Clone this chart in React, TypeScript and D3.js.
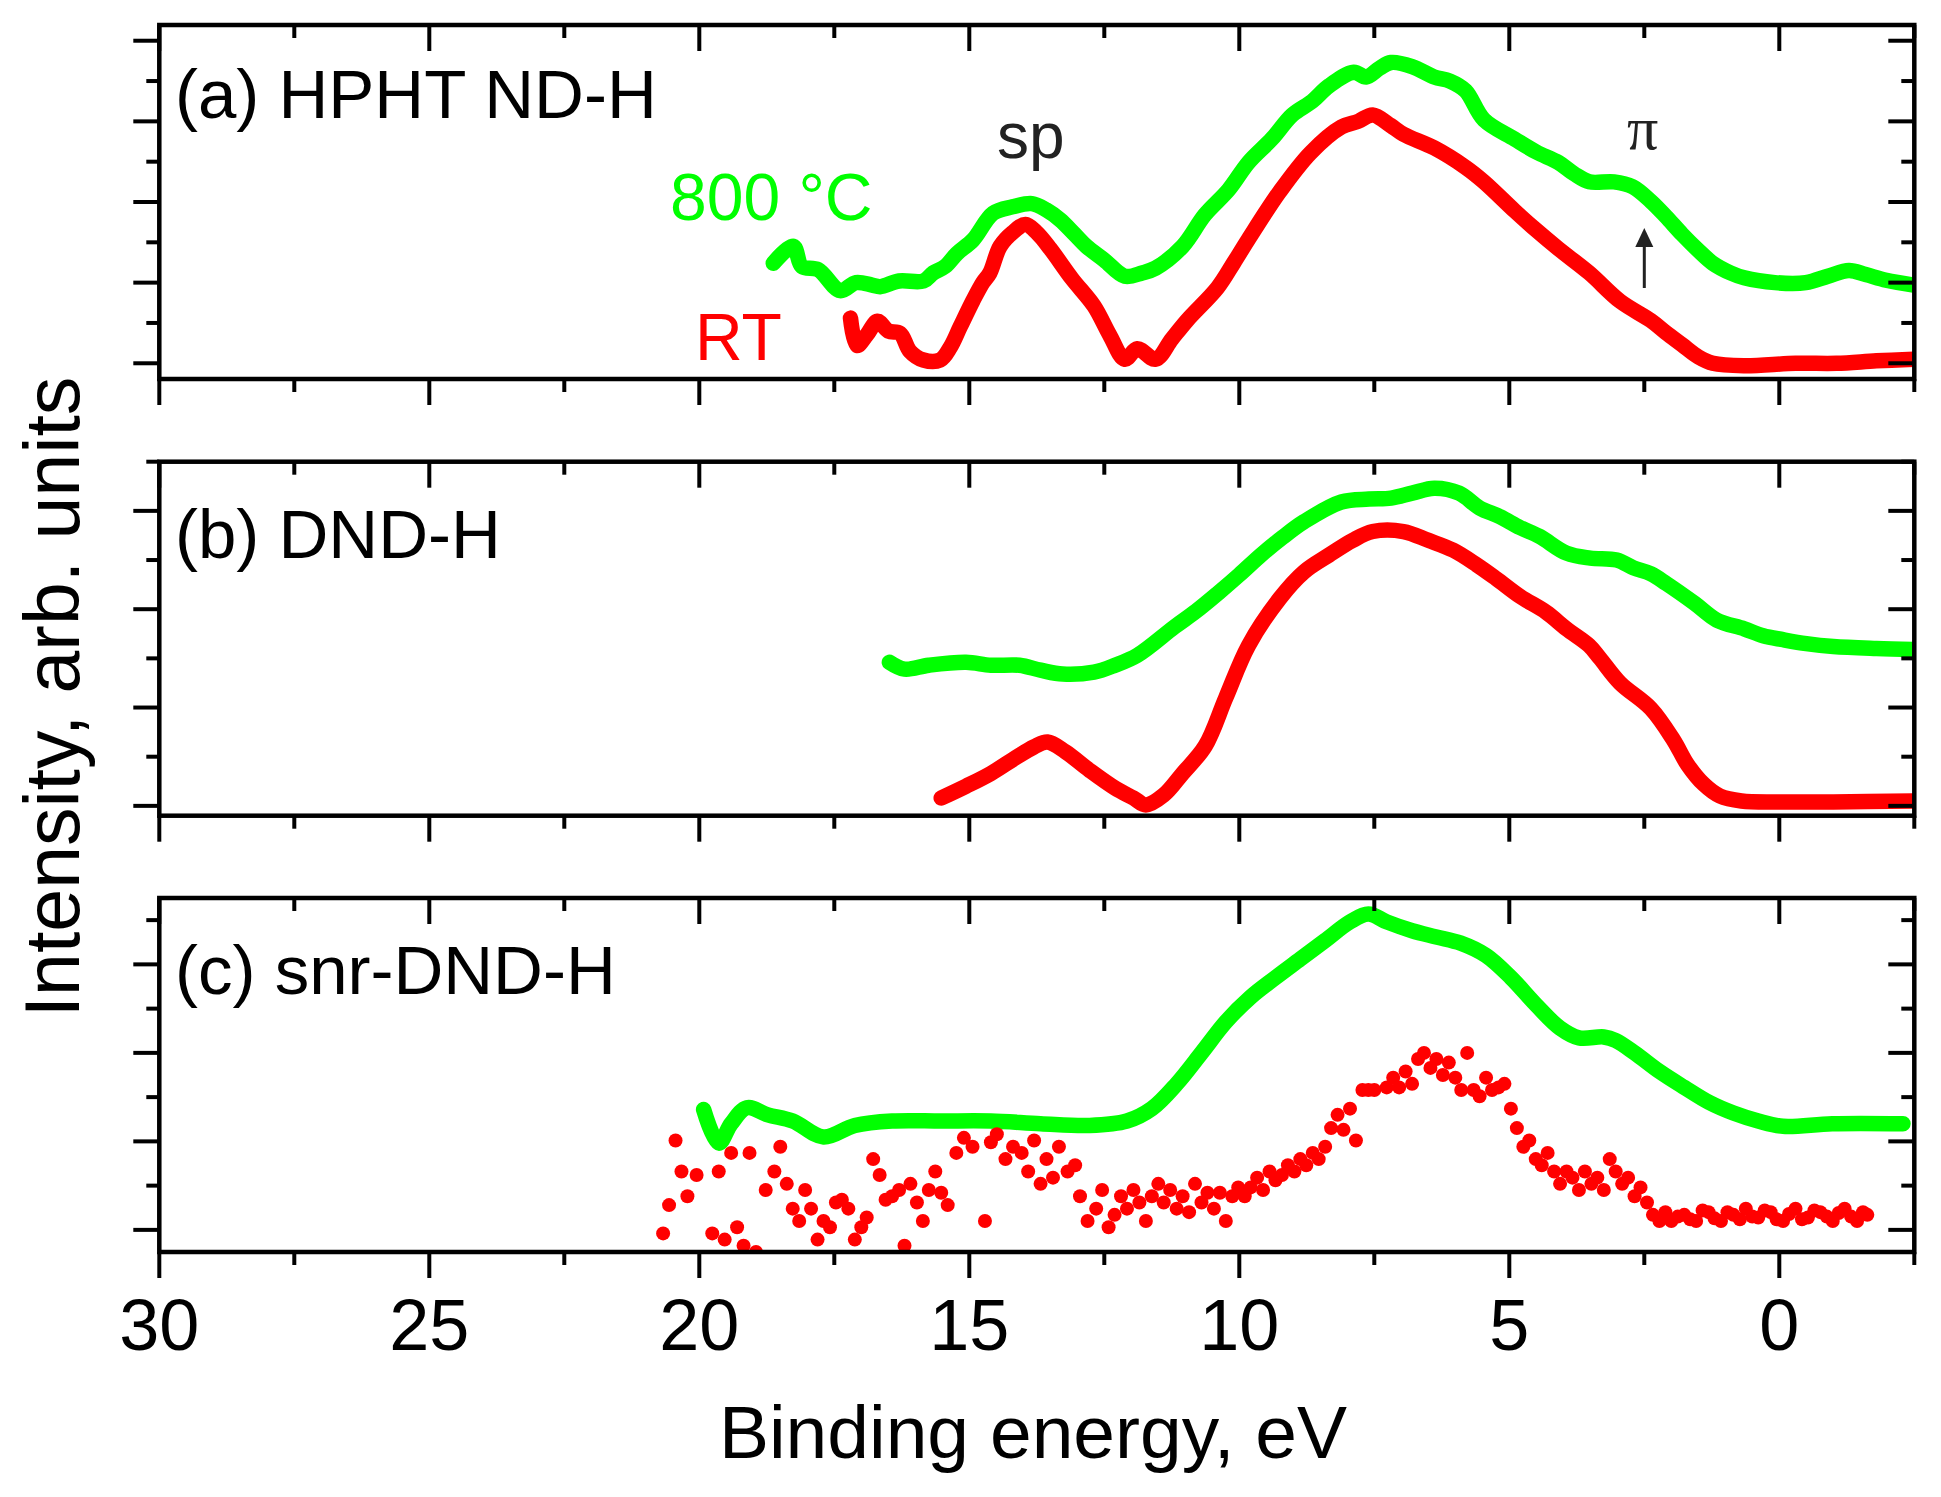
import React from 'react';
import * as d3 from 'd3';

type Pt = [number, number];

// binding energy ticks
const xMajor = [30, 25, 20, 15, 10, 5, 0];
const xMinor = [27.5, 22.5, 17.5, 12.5, 7.5, 2.5, -2.5];

// (a) HPHT ND-H
const aGreen: Pt[] = [
	[18.63, 1.24], [18.26, 1.45], [18.1, 1.2], [17.8, 1.16], [17.39, 0.9], [17.1, 1.0], [16.8, 0.97],
	[16.65, 0.95], [16.3, 1.02], [15.85, 1.02], [15.67, 1.12], [15.45, 1.2], [15.23, 1.36], [14.93, 1.53],
	[14.56, 1.86], [14.2, 1.94], [13.84, 1.98], [13.57, 1.9], [13.32, 1.78], [13.05, 1.6], [12.83, 1.45],
	[12.5, 1.28], [12.12, 1.08], [11.8, 1.12], [11.55, 1.18], [11.05, 1.45], [10.64, 1.84], [10.2, 2.15],
	[9.83, 2.49], [9.4, 2.78], [9.02, 3.08], [8.65, 3.25], [8.34, 3.44], [7.88, 3.61], [7.65, 3.55],
	[7.4, 3.66], [7.19, 3.73], [6.8, 3.68], [6.39, 3.55], [6.1, 3.5], [5.81, 3.38], [5.47, 3.02],
	[4.9, 2.78], [4.5, 2.62], [4.09, 2.49], [3.8, 2.35], [3.52, 2.25], [3.06, 2.25], [2.72, 2.19],
	[2.38, 2.01], [2.1, 1.82], [1.8, 1.6], [1.5, 1.4], [1.23, 1.24], [0.9, 1.12], [0.65, 1.06],
	[0.08, 1.0], [-0.49, 1.0], [-0.9, 1.08], [-1.29, 1.15], [-1.6, 1.1], [-1.98, 1.03], [-2.49, 0.97],
];
const aRed: Pt[] = [
	[17.2, 0.56], [17.08, 0.22], [16.9, 0.35], [16.7, 0.52], [16.5, 0.4], [16.28, 0.37], [16.1, 0.15],
	[15.85, 0.04], [15.54, 0.04], [15.35, 0.2], [15.17, 0.45], [14.93, 0.78], [14.75, 1.0], [14.62, 1.12],
	[14.43, 1.45], [14.2, 1.62], [13.96, 1.72], [13.75, 1.62], [13.5, 1.42], [13.1, 1.05], [12.69, 0.71],
	[12.4, 0.35], [12.12, 0.05], [11.89, 0.18], [11.55, 0.05], [11.25, 0.3], [10.97, 0.53], [10.4, 0.94],
	[10.1, 1.25], [9.83, 1.54], [9.25, 2.13], [8.68, 2.61], [8.11, 2.93], [7.8, 3.0], [7.53, 3.08],
	[7.2, 2.95], [6.96, 2.84], [6.39, 2.67], [5.81, 2.43], [5.47, 2.25], [4.9, 1.89], [4.5, 1.65],
	[4.09, 1.42], [3.52, 1.12], [2.95, 0.77], [2.38, 0.53], [2.1, 0.38], [1.8, 0.23], [1.5, 0.08],
	[1.23, 0.0], [0.65, -0.03], [-0.3, 0.0], [-1.06, 0.0], [-1.8, 0.03], [-2.49, 0.05],
];

// (b) DND-H
const bGreen: Pt[] = [
	[16.48, 1.46], [16.2, 1.39], [15.75, 1.43], [15.06, 1.46], [14.6, 1.43], [14.07, 1.43], [13.68, 1.38],
	[13.27, 1.34], [12.69, 1.36], [12.3, 1.43], [11.89, 1.53], [11.2, 1.82], [10.8, 1.98], [10.4, 2.16],
	[10.0, 2.35], [9.6, 2.55], [9.2, 2.73], [8.8, 2.89], [8.11, 3.09], [7.6, 3.12], [7.19, 3.13],
	[6.8, 3.18], [6.39, 3.23], [5.93, 3.18], [5.55, 3.03], [5.17, 2.94], [4.8, 2.83], [4.44, 2.74],
	[3.94, 2.57], [3.5, 2.52], [3.01, 2.5], [2.7, 2.42], [2.38, 2.36], [2.09, 2.26], [1.57, 2.06],
	[1.16, 1.89], [0.65, 1.8], [0.3, 1.73], [-0.07, 1.69], [-0.5, 1.65], [-1.0, 1.62], [-1.8, 1.6],
	[-2.48, 1.59],
];
const bRed: Pt[] = [
	[15.52, 0.08], [15.06, 0.2], [14.6, 0.33], [14.14, 0.49], [13.8, 0.6], [13.55, 0.65], [13.22, 0.55],
	[12.77, 0.36], [12.3, 0.18], [11.96, 0.08], [11.73, 0.01], [11.4, 0.11], [11.05, 0.33], [10.63, 0.61],
	[10.25, 1.1], [9.83, 1.63], [9.25, 2.11], [8.8, 2.38], [8.34, 2.55], [7.9, 2.7], [7.53, 2.79],
	[6.96, 2.79], [6.5, 2.7], [6.04, 2.6], [5.6, 2.45], [5.24, 2.31], [4.8, 2.13], [4.32, 1.97],
	[3.94, 1.8], [3.52, 1.63], [3.32, 1.5], [2.95, 1.25], [2.38, 0.99], [1.96, 0.67], [1.7, 0.42],
	[1.4, 0.22], [1.1, 0.1], [0.7, 0.05], [0.0, 0.04], [-1.0, 0.04], [-2.47, 0.05],
];

// (c) snr-DND-H
const cGreen: Pt[] = [
	[19.92, 1.36], [19.64, 0.98], [19.41, 1.2], [19.12, 1.38], [18.73, 1.3], [18.27, 1.23], [17.7, 1.05],
	[17.12, 1.18], [16.43, 1.23], [15.52, 1.23], [14.6, 1.23], [13.68, 1.2], [12.77, 1.18], [12.08, 1.23],
	[11.62, 1.37], [11.16, 1.65], [10.7, 2.0], [10.25, 2.35], [9.79, 2.63], [9.33, 2.85], [8.87, 3.06],
	[8.41, 3.27], [7.95, 3.48], [7.61, 3.57], [7.27, 3.48], [6.8, 3.38], [6.35, 3.31], [5.9, 3.24],
	[5.43, 3.1], [4.97, 2.85], [4.5, 2.54], [4.06, 2.28], [3.71, 2.17], [3.25, 2.18], [3.03, 2.14],
	[2.68, 2.0], [2.22, 1.79], [1.76, 1.61], [1.3, 1.44], [0.85, 1.32], [0.39, 1.23], [-0.07, 1.17],
	[-0.98, 1.2], [-2.29, 1.2],
];
const cRed: Pt[] = [
	[20.67, -0.04], [20.56, 0.28], [20.44, 1.01], [20.33, 0.66], [20.22, 0.38], [20.05, 0.62], [19.76, -0.04],
	[19.64, 0.66], [19.53, -0.11], [19.41, 0.87], [19.3, 0.03], [19.18, -0.18], [19.07, 0.87], [18.95, -0.25],
	[18.77, 0.45], [18.61, 0.66], [18.5, 0.94], [18.38, 0.52], [18.27, 0.24], [18.15, 0.1], [18.04, 0.45],
	[17.93, 0.24], [17.81, -0.11], [17.7, 0.1], [17.58, 0.03], [17.47, 0.31], [17.36, 0.34], [17.24, 0.24],
	[17.12, -0.11], [17.0, 0.03], [16.9, 0.14], [16.78, 0.8], [16.66, 0.62], [16.55, 0.34], [16.43, 0.38],
	[16.3, 0.45], [16.2, -0.18], [16.09, 0.52], [15.97, 0.31], [15.86, 0.1], [15.75, 0.45], [15.63, 0.66],
	[15.52, 0.42], [15.4, 0.28], [15.24, 0.87], [15.1, 1.04], [14.94, 0.94], [14.71, 0.1], [14.6, 0.99],
	[14.49, 1.08], [14.33, 0.8], [14.19, 0.94], [14.03, 0.87], [13.91, 0.66], [13.8, 1.01], [13.68, 0.52],
	[13.57, 0.8], [13.45, 0.59], [13.34, 0.94], [13.18, 0.66], [13.04, 0.73], [12.95, 0.38], [12.81, 0.1],
	[12.65, 0.24], [12.54, 0.45], [12.42, 0.03], [12.31, 0.17], [12.19, 0.38], [12.08, 0.24], [11.96, 0.45],
	[11.85, 0.31], [11.73, 0.1], [11.62, 0.38], [11.5, 0.52], [11.4, 0.31], [11.28, 0.45], [11.16, 0.24],
	[11.05, 0.38], [10.93, 0.2], [10.82, 0.52], [10.7, 0.31], [10.59, 0.42], [10.47, 0.24], [10.36, 0.42],
	[10.25, 0.1], [10.13, 0.38], [10.02, 0.48], [9.9, 0.38], [9.79, 0.48], [9.67, 0.59], [9.56, 0.45],
	[9.44, 0.66], [9.33, 0.56], [9.21, 0.62], [9.1, 0.73], [8.98, 0.66], [8.87, 0.8], [8.76, 0.73],
	[8.64, 0.87], [8.53, 0.8], [8.41, 0.94], [8.3, 1.15], [8.18, 1.3], [8.07, 1.13], [7.95, 1.37],
	[7.84, 1.01], [7.72, 1.58], [7.61, 1.58], [7.5, 1.58], [7.27, 1.61], [7.15, 1.72], [7.04, 1.61],
	[6.92, 1.79], [6.8, 1.65], [6.69, 1.93], [6.58, 2.0], [6.46, 1.83], [6.35, 1.93], [6.23, 1.75],
	[6.12, 1.89], [6.0, 1.72], [5.89, 1.58], [5.78, 2.0], [5.66, 1.58], [5.55, 1.51], [5.43, 1.72],
	[5.32, 1.58], [5.2, 1.61], [5.09, 1.65], [4.97, 1.37], [4.86, 1.15], [4.74, 0.94], [4.63, 1.01],
	[4.51, 0.8], [4.4, 0.73], [4.29, 0.87], [4.17, 0.66], [4.06, 0.52], [3.94, 0.66], [3.83, 0.59],
	[3.71, 0.45], [3.6, 0.66], [3.48, 0.52], [3.37, 0.59], [3.25, 0.45], [3.14, 0.8], [3.03, 0.66],
	[2.91, 0.52], [2.8, 0.59], [2.68, 0.38], [2.57, 0.48], [2.45, 0.31], [2.34, 0.17], [2.22, 0.1],
	[2.11, 0.2], [2.0, 0.1], [1.88, 0.15], [1.76, 0.17], [1.65, 0.12], [1.54, 0.1], [1.42, 0.22],
	[1.31, 0.2], [1.2, 0.13], [1.08, 0.1], [0.96, 0.2], [0.85, 0.17], [0.73, 0.12], [0.62, 0.24],
	[0.5, 0.15], [0.39, 0.14], [0.27, 0.22], [0.16, 0.2], [0.05, 0.12], [-0.07, 0.1], [-0.18, 0.18],
	[-0.3, 0.24], [-0.42, 0.12], [-0.53, 0.14], [-0.65, 0.22], [-0.76, 0.2], [-0.88, 0.15], [-0.99, 0.1],
	[-1.1, 0.19], [-1.21, 0.24], [-1.33, 0.15], [-1.44, 0.1], [-1.55, 0.2], [-1.63, 0.17],
];

const GREEN = '#00ff00';
const RED = '#ff0000';
const FONT = '"Liberation Sans", Arial, sans-serif';

const W = 1941;
const H = 1497;
const PANEL_H = 354;
const x = d3.scaleLinear().domain([30, -2.5]).range([159.3, 1914.3]);

type PanelDef = {
	id: string;
	top: number;
	domain: [number, number];
	majors: number[];
	minors: number[];
	label: string;
	labelY: number;
	lines: { data: Pt[]; color: string }[];
	dots?: { data: Pt[]; color: string };
};

const panels: PanelDef[] = [
	{ id: 'a', top: 25, domain: [-0.195, 4.195], majors: [0, 1, 2, 3, 4], minors: [0.5, 1.5, 2.5, 3.5],
		label: '(a) HPHT ND-H', labelY: 118, lines: [{ data: aGreen, color: GREEN }, { data: aRed, color: RED }] },
	{ id: 'b', top: 461.7, domain: [-0.1, 3.5], majors: [0, 1, 2, 3], minors: [0.5, 1.5, 2.5, 3.5],
		label: '(b) DND-H', labelY: 558, lines: [{ data: bGreen, color: GREEN }, { data: bRed, color: RED }] },
	{ id: 'c', top: 898, domain: [-0.25, 3.75], majors: [0, 1, 2, 3], minors: [0.5, 1.5, 2.5, 3.5],
		label: '(c) snr-DND-H', labelY: 994, lines: [{ data: cGreen, color: GREEN }], dots: { data: cRed, color: RED } },
];

const MAJ = 26;
const MIN = 13;

function Panel({ p, last }: { p: PanelDef; last: boolean }) {
	const bottom = p.top + PANEL_H;
	const y = d3.scaleLinear().domain(p.domain).range([bottom, p.top]);
	const line = d3.line<Pt>().x(d => x(d[0])).y(d => y(d[1])).curve(d3.curveCatmullRom.alpha(0.5));
	const [x0, x1] = x.range();
	const xt = [...xMajor.map(v => ({ v, l: MAJ })), ...xMinor.map(v => ({ v, l: MIN }))];
	const yt = [...p.majors.map(v => ({ v, l: MAJ })), ...p.minors.map(v => ({ v, l: MIN }))];
	return (
		<g>
			<clipPath id={`clip-${p.id}`}>
				<rect x={x0} y={p.top} width={x1 - x0} height={PANEL_H} />
			</clipPath>
			<g clipPath={`url(#clip-${p.id})`}>
				{p.lines.map((s, i) => (
					<path key={i} d={line(s.data) || ''} fill="none" stroke={s.color} strokeWidth={15.5}
						strokeLinecap="round" strokeLinejoin="round" />
				))}
				{p.dots && p.dots.data.map((d, i) => (
					<circle key={i} cx={x(d[0])} cy={y(d[1])} r={7} fill={p.dots!.color} />
				))}
			</g>
			<g stroke="#000" strokeWidth={4}>
				{xt.map((t, i) => (
					<g key={i}>
						<line x1={x(t.v)} x2={x(t.v)} y1={bottom} y2={bottom + t.l} />
						<line x1={x(t.v)} x2={x(t.v)} y1={p.top} y2={p.top + t.l} />
					</g>
				))}
				{yt.map((t, i) => (
					<g key={i}>
						<line x1={x0 - t.l} x2={x0} y1={y(t.v)} y2={y(t.v)} />
						<line x1={x1 - t.l} x2={x1} y1={y(t.v)} y2={y(t.v)} />
					</g>
				))}
			</g>
			<rect x={x0} y={p.top} width={x1 - x0} height={PANEL_H} fill="none" stroke="#000" strokeWidth={4.5} />
			<text x={175} y={p.labelY} fontSize={69} fontFamily={FONT} fill="#000">{p.label}</text>
			{last && xMajor.map(v => (
				<text key={v} x={x(v)} y={1350} fontSize={72} fontFamily={FONT} textAnchor="middle" fill="#000">{v}</text>
			))}
		</g>
	);
}

export default function App() {
	const ax = x(2.5);
	return (
		<svg width={W} height={H} viewBox={`0 0 ${W} ${H}`}
			style={{ position: 'absolute', left: 0, top: 0, background: '#fff' }}>
			<rect width={W} height={H} fill="#fff" />
			{panels.map((p, i) => <Panel key={p.id} p={p} last={i === panels.length - 1} />)}

			{/* annotations, panel (a) */}
			<text x={670} y={220} fontSize={66} fontFamily={FONT} fill={GREEN}>800 °C</text>
			<text x={695} y={360} fontSize={66} fontFamily={FONT} fill={RED}>RT</text>
			<text x={997} y={158} fontSize={64} fontFamily={FONT} fill="#222">sp</text>
			<text x={1627} y={149} fontSize={62} fontFamily='"Liberation Serif", "DejaVu Serif", serif' fill="#222">π</text>
			<line x1={ax} x2={ax} y1={288} y2={240} stroke="#222" strokeWidth={3} />
			<path d={`M${ax},228 L${ax - 9},247 L${ax + 9},247 Z`} fill="#222" />

			<text x={1033} y={1458} fontSize={75} fontFamily={FONT} textAnchor="middle" fill="#000">Binding energy, eV</text>
			<text transform="translate(79,697) rotate(-90)" fontSize={77} fontFamily={FONT} textAnchor="middle" fill="#000">
				Intensity, arb. units
			</text>
		</svg>
	);
}
